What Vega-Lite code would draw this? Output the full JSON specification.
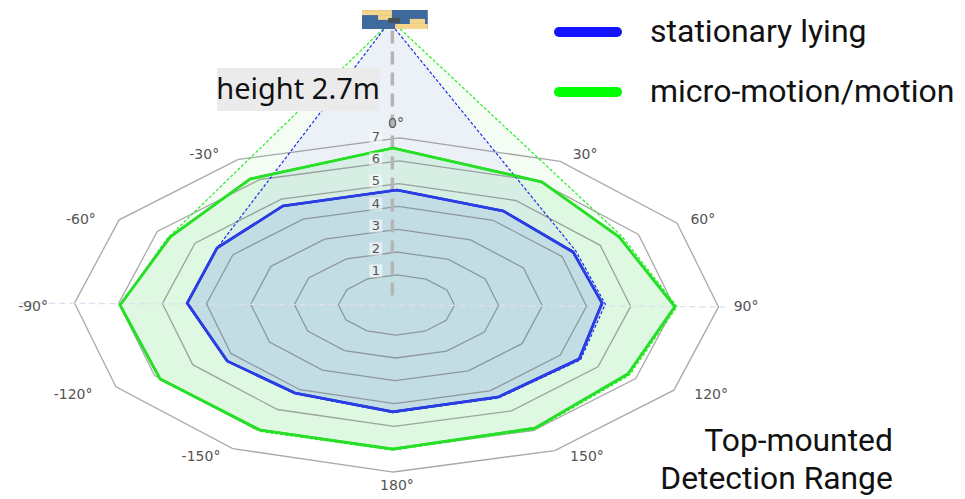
{"$schema":"https://vega.github.io/schema/vega-lite/v6.json","width":965,"height":499,"padding":0,"autosize":{"type":"fit","contains":"padding"},"background":"white","view":{"stroke":null},
"datasets":{
"rings":[
{"ring":1,"i":0,"x":0.01,"y":1.26},{"ring":1,"i":1,"x":0.64,"y":1.08},{"ring":1,"i":2,"x":1.10,"y":0.62},{"ring":1,"i":3,"x":1.26,"y":-0.01},{"ring":1,"i":4,"x":1.08,"y":-0.64},{"ring":1,"i":5,"x":0.62,"y":-1.10},{"ring":1,"i":6,"x":-0.01,"y":-1.26},{"ring":1,"i":7,"x":-0.64,"y":-1.08},{"ring":1,"i":8,"x":-1.10,"y":-0.62},{"ring":1,"i":9,"x":-1.26,"y":0.01},{"ring":1,"i":10,"x":-1.08,"y":0.64},{"ring":1,"i":11,"x":-0.62,"y":1.10},
{"ring":2,"i":0,"x":0.02,"y":2.22},{"ring":2,"i":1,"x":1.13,"y":1.91},{"ring":2,"i":2,"x":1.93,"y":1.09},{"ring":2,"i":3,"x":2.22,"y":-0.02},{"ring":2,"i":4,"x":1.91,"y":-1.13},{"ring":2,"i":5,"x":1.09,"y":-1.93},{"ring":2,"i":6,"x":-0.02,"y":-2.22},{"ring":2,"i":7,"x":-1.13,"y":-1.91},{"ring":2,"i":8,"x":-1.93,"y":-1.09},{"ring":2,"i":9,"x":-2.22,"y":0.02},{"ring":2,"i":10,"x":-1.91,"y":1.13},{"ring":2,"i":11,"x":-1.09,"y":1.93},
{"ring":3,"i":0,"x":0.03,"y":3.17},{"ring":3,"i":1,"x":1.61,"y":2.73},{"ring":3,"i":2,"x":2.76,"y":1.55},{"ring":3,"i":3,"x":3.17,"y":-0.03},{"ring":3,"i":4,"x":2.73,"y":-1.62},{"ring":3,"i":5,"x":1.56,"y":-2.76},{"ring":3,"i":6,"x":-0.03,"y":-3.17},{"ring":3,"i":7,"x":-1.61,"y":-2.73},{"ring":3,"i":8,"x":-2.76,"y":-1.55},{"ring":3,"i":9,"x":-3.17,"y":0.03},{"ring":3,"i":10,"x":-2.73,"y":1.62},{"ring":3,"i":11,"x":-1.56,"y":2.76},
{"ring":4,"i":0,"x":0.04,"y":4.13},{"ring":4,"i":1,"x":2.10,"y":3.55},{"ring":4,"i":2,"x":3.60,"y":2.03},{"ring":4,"i":3,"x":4.13,"y":-0.05},{"ring":4,"i":4,"x":3.56,"y":-2.10},{"ring":4,"i":5,"x":2.03,"y":-3.60},{"ring":4,"i":6,"x":-0.04,"y":-4.13},{"ring":4,"i":7,"x":-2.10,"y":-3.55},{"ring":4,"i":8,"x":-3.60,"y":-2.03},{"ring":4,"i":9,"x":-4.13,"y":0.05},{"ring":4,"i":10,"x":-3.56,"y":2.10},{"ring":4,"i":11,"x":-2.03,"y":3.60},
{"ring":5,"i":0,"x":0.05,"y":5.09},{"ring":5,"i":1,"x":2.59,"y":4.38},{"ring":5,"i":2,"x":4.43,"y":2.50},{"ring":5,"i":3,"x":5.09,"y":-0.06},{"ring":5,"i":4,"x":4.38,"y":-2.59},{"ring":5,"i":5,"x":2.50,"y":-4.44},{"ring":5,"i":6,"x":-0.05,"y":-5.09},{"ring":5,"i":7,"x":-2.59,"y":-4.38},{"ring":5,"i":8,"x":-4.43,"y":-2.50},{"ring":5,"i":9,"x":-5.09,"y":0.06},{"ring":5,"i":10,"x":-4.38,"y":2.59},{"ring":5,"i":11,"x":-2.50,"y":4.44},
{"ring":6,"i":0,"x":0.06,"y":6.04},{"ring":6,"i":1,"x":3.07,"y":5.20},{"ring":6,"i":2,"x":5.26,"y":2.96},{"ring":6,"i":3,"x":6.04,"y":-0.07},{"ring":6,"i":4,"x":5.20,"y":-3.08},{"ring":6,"i":5,"x":2.97,"y":-5.26},{"ring":6,"i":6,"x":-0.06,"y":-6.04},{"ring":6,"i":7,"x":-3.07,"y":-5.20},{"ring":6,"i":8,"x":-5.26,"y":-2.96},{"ring":6,"i":9,"x":-6.04,"y":0.07},{"ring":6,"i":10,"x":-5.20,"y":3.08},{"ring":6,"i":11,"x":-2.97,"y":5.26},
{"ring":7,"i":0,"x":0.07,"y":7},{"ring":7,"i":1,"x":3.56,"y":6.02},{"ring":7,"i":2,"x":6.10,"y":3.43},{"ring":7,"i":3,"x":7,"y":-0.08},{"ring":7,"i":4,"x":6.03,"y":-3.57},{"ring":7,"i":5,"x":3.44,"y":-6.10},{"ring":7,"i":6,"x":-0.07,"y":-7},{"ring":7,"i":7,"x":-3.56,"y":-6.02},{"ring":7,"i":8,"x":-6.10,"y":-3.43},{"ring":7,"i":9,"x":-7,"y":0.08},{"ring":7,"i":10,"x":-6.03,"y":3.57},{"ring":7,"i":11,"x":-3.44,"y":6.10}],
"polygons":[
{"series":"micro-motion/motion","i":0,"x":-0.08,"y":6.58},{"series":"micro-motion/motion","i":1,"x":3.16,"y":5.16},{"series":"micro-motion/motion","i":2,"x":4.84,"y":2.85},{"series":"micro-motion/motion","i":3,"x":6.05,"y":-0.07},{"series":"micro-motion/motion","i":4,"x":5.03,"y":-2.89},{"series":"micro-motion/motion","i":5,"x":3.01,"y":-5.16},{"series":"micro-motion/motion","i":6,"x":-0.08,"y":-6.04},{"series":"micro-motion/motion","i":7,"x":-2.97,"y":-5.24},{"series":"micro-motion/motion","i":8,"x":-5.14,"y":-3.10},{"series":"micro-motion/motion","i":9,"x":-6.01,"y":0},{"series":"micro-motion/motion","i":10,"x":-4.92,"y":2.85},{"series":"micro-motion/motion","i":11,"x":-3.18,"y":5.28},
{"series":"stationary lying","i":0,"x":0.01,"y":4.82},{"series":"stationary lying","i":1,"x":2.32,"y":3.94},{"series":"stationary lying","i":2,"x":3.84,"y":2.22},{"series":"stationary lying","i":3,"x":4.47,"y":0.08},{"series":"stationary lying","i":4,"x":3.97,"y":-2.26},{"series":"stationary lying","i":5,"x":2.21,"y":-3.86},{"series":"stationary lying","i":6,"x":-0.08,"y":-4.48},{"series":"stationary lying","i":7,"x":-2.21,"y":-3.69},{"series":"stationary lying","i":8,"x":-3.68,"y":-2.35},{"series":"stationary lying","i":9,"x":-4.55,"y":0.08},{"series":"stationary lying","i":10,"x":-3.90,"y":2.39},{"series":"stationary lying","i":11,"x":-2.47,"y":4.15}],
"coneGreen":[
{"i":0,"x":0.08,"y":11.57},{"i":1,"x":4.90,"y":2.88},{"i":2,"x":6.10,"y":-0.07},{"i":3,"x":5.06,"y":-2.95},{"i":4,"x":3.01,"y":-5.22},{"i":5,"x":-0.08,"y":-6.08},{"i":6,"x":-2.97,"y":-5.30},{"i":7,"x":-5.14,"y":-3.10},{"i":8,"x":-6.01,"y":0},{"i":9,"x":-4.98,"y":2.80},{"i":10,"x":-0.29,"y":11.57}],
"coneBlue":[
{"i":0,"x":-0.03,"y":11.57},{"i":1,"x":3.90,"y":2.26},{"i":2,"x":4.54,"y":0.04},{"i":3,"x":4.00,"y":-2.30},{"i":4,"x":2.21,"y":-3.90},{"i":5,"x":-0.08,"y":-4.50},{"i":6,"x":-2.21,"y":-3.72},{"i":7,"x":-3.68,"y":-2.35},{"i":8,"x":-4.55,"y":0.08},{"i":9,"x":-3.90,"y":2.39},{"i":10,"x":-0.27,"y":11.57}],
"verticalAxis":[{"x":-0.09,"y":11.5},{"x":-0.09,"y":0.05}],
"horizontalAxis":[{"x":-8.2,"y":0.08},{"x":7.14,"y":-0.08}],
"radiusLabels":[{"x":-0.45,"y":7.04,"label":"7"},{"x":-0.45,"y":6.12,"label":"6"},{"x":-0.45,"y":5.20,"label":"5"},{"x":-0.45,"y":4.23,"label":"4"},{"x":-0.45,"y":3.31,"label":"3"},{"x":-0.45,"y":2.35,"label":"2"},{"x":-0.45,"y":1.43,"label":"1"}],
"angleLabels":[{"x":-0.01,"y":7.59,"label":"0°"},{"x":4.10,"y":6.29,"label":"30°"},{"x":-4.18,"y":6.29,"label":"-30°"},{"x":6.66,"y":3.56,"label":"60°"},{"x":-6.86,"y":3.56,"label":"-60°"},{"x":7.60,"y":-0.08,"label":"90°"},{"x":-7.90,"y":-0.08,"label":"-90°"},{"x":6.84,"y":-3.77,"label":"120°"},{"x":-7.03,"y":-3.77,"label":"-120°"},{"x":4.14,"y":-6.37,"label":"150°"},{"x":-4.25,"y":-6.37,"label":"-150°"},{"x":0.01,"y":-7.59,"label":"180°"}],
"sensor":[
{"part":"board","x":-0.75,"x2":0.68,"y":12.36,"y2":11.57},
{"part":"pad","x":-0.75,"x2":-0.10,"y":12.36,"y2":12.15},
{"part":"pad","x":-0.40,"x2":-0.10,"y":12.15,"y2":11.95},
{"part":"pad","x":-0.03,"x2":0.68,"y":11.78,"y2":11.57},
{"part":"pad","x":0.29,"x2":0.62,"y":11.99,"y2":11.78},
{"part":"chip","x":-0.18,"x2":0.08,"y":12.03,"y2":11.82}],
"heightBox":[{"x":-3.90,"x2":-0.36,"y":9.93,"y2":8.13}],
"heightLabel":[{"x":-2.14,"y":9.01,"label":"height 2.7m"}],
"caption":[{"x":10.79,"y":-5.70,"label":"Top-mounted"},{"x":10.79,"y":-7.29,"label":"Detection Range"}]
},
"encoding":{
"x":{"field":"x","type":"quantitative","scale":{"domain":[-8.6196,12.3587],"nice":false,"zero":false},"axis":null},
"y":{"field":"y","type":"quantitative","scale":{"domain":[-8.1308,12.7829],"nice":false,"zero":false},"axis":null}
},
"layer":[
{"data":{"name":"coneGreen"},"mark":{"type":"line","fill":"#f4fcf4","stroke":null},"encoding":{"order":{"field":"i"}}},
{"data":{"name":"coneBlue"},"mark":{"type":"line","fill":"#ebf1f6","stroke":null},"encoding":{"order":{"field":"i"}}},
{"data":{"name":"polygons"},"transform":[{"filter":"datum.series=='micro-motion/motion'"}],"mark":{"type":"line","interpolate":"linear-closed","fill":"#33dd55","fillOpacity":0.11,"stroke":null},"encoding":{"order":{"field":"i"}}},
{"data":{"name":"polygons"},"transform":[{"filter":"datum.series=='stationary lying'"}],"mark":{"type":"line","interpolate":"linear-closed","fill":"#c3dde5","stroke":null},"encoding":{"order":{"field":"i"}}},
{"data":{"name":"rings"},"mark":{"type":"line","interpolate":"linear-closed","stroke":"#555555","strokeOpacity":0.5,"strokeWidth":1.3},"encoding":{"detail":{"field":"ring"},"order":{"field":"i"}}},
{"data":{"name":"horizontalAxis"},"mark":{"type":"line","stroke":"#dde0ee","strokeWidth":1.3,"strokeDash":[6,4]},"encoding":{}},
{"data":{"name":"verticalAxis"},"mark":{"type":"line","stroke":"#b5b5b5","strokeWidth":3.5,"strokeDash":[13,8]},"encoding":{}},
{"data":{"name":"coneGreen"},"mark":{"type":"line","stroke":"#22ee22","strokeWidth":1.2,"strokeDash":[3,2]},"encoding":{"order":{"field":"i"}}},
{"data":{"name":"coneBlue"},"mark":{"type":"line","stroke":"#1a2cf0","strokeWidth":1.2,"strokeDash":[3,2]},"encoding":{"order":{"field":"i"}}},
{"data":{"name":"polygons"},"mark":{"type":"line","interpolate":"linear-closed","strokeWidth":2.6},"encoding":{"order":{"field":"i"},
"color":{"field":"series","type":"nominal","scale":{"domain":["stationary lying","micro-motion/motion"],"range":["#1414ff","#00ff00"]},
"legend":{"title":null,"orient":"none","legendX":554,"legendY":2,"symbolType":"stroke","symbolSize":3364,"symbolStrokeWidth":10,"labelFont":"Roboto","labelFontSize":32,"labelColor":"#111111","labelLimit":500,"clipHeight":60,"rowPadding":0,"labelOffset":28,"encode":{"symbols":{"update":{"strokeCap":{"value":"round"}}}}}}}},
{"data":{"name":"polygons"},"transform":[{"filter":"datum.series=='micro-motion/motion'"}],"mark":{"type":"line","interpolate":"linear-closed","stroke":"#2bdc2b","strokeWidth":2.6},"encoding":{"order":{"field":"i"}}},
{"data":{"name":"polygons"},"transform":[{"filter":"datum.series=='stationary lying'"}],"mark":{"type":"line","interpolate":"linear-closed","stroke":"#2a3fe0","strokeWidth":2.6},"encoding":{"order":{"field":"i"}}},
{"data":{"name":"radiusLabels"},"mark":{"type":"point","shape":"square","filled":true,"color":"#ffffff","opacity":0.55,"size":170},"encoding":{}},
{"data":{"name":"radiusLabels"},"mark":{"type":"text","font":"DejaVu Sans","fontSize":13,"fill":"#555555"},"encoding":{"text":{"field":"label"}}},
{"data":{"name":"angleLabels"},"mark":{"type":"text","font":"DejaVu Sans","fontSize":14,"fill":"#555555"},"encoding":{"text":{"field":"label"}}},
{"data":{"name":"sensor"},"mark":{"type":"rect"},"encoding":{"x2":{"field":"x2"},"y2":{"field":"y2"},"fill":{"field":"part","type":"nominal","scale":{"domain":["board","pad","chip"],"range":["#3e6a9e","#f5d58a","#44505a"]},"legend":null},"order":{"field":"i"}}},
{"data":{"name":"heightBox"},"mark":{"type":"rect","fill":"#ebebeb"},"encoding":{"x2":{"field":"x2"},"y2":{"field":"y2"}}},
{"data":{"name":"heightLabel"},"mark":{"type":"text","font":"Noto Sans","fontSize":29,"fill":"#111111"},"encoding":{"text":{"field":"label"}}},
{"data":{"name":"caption"},"mark":{"type":"text","font":"Roboto","fontSize":31.8,"fill":"#111111","align":"right"},"encoding":{"text":{"field":"label"}}}
]}
